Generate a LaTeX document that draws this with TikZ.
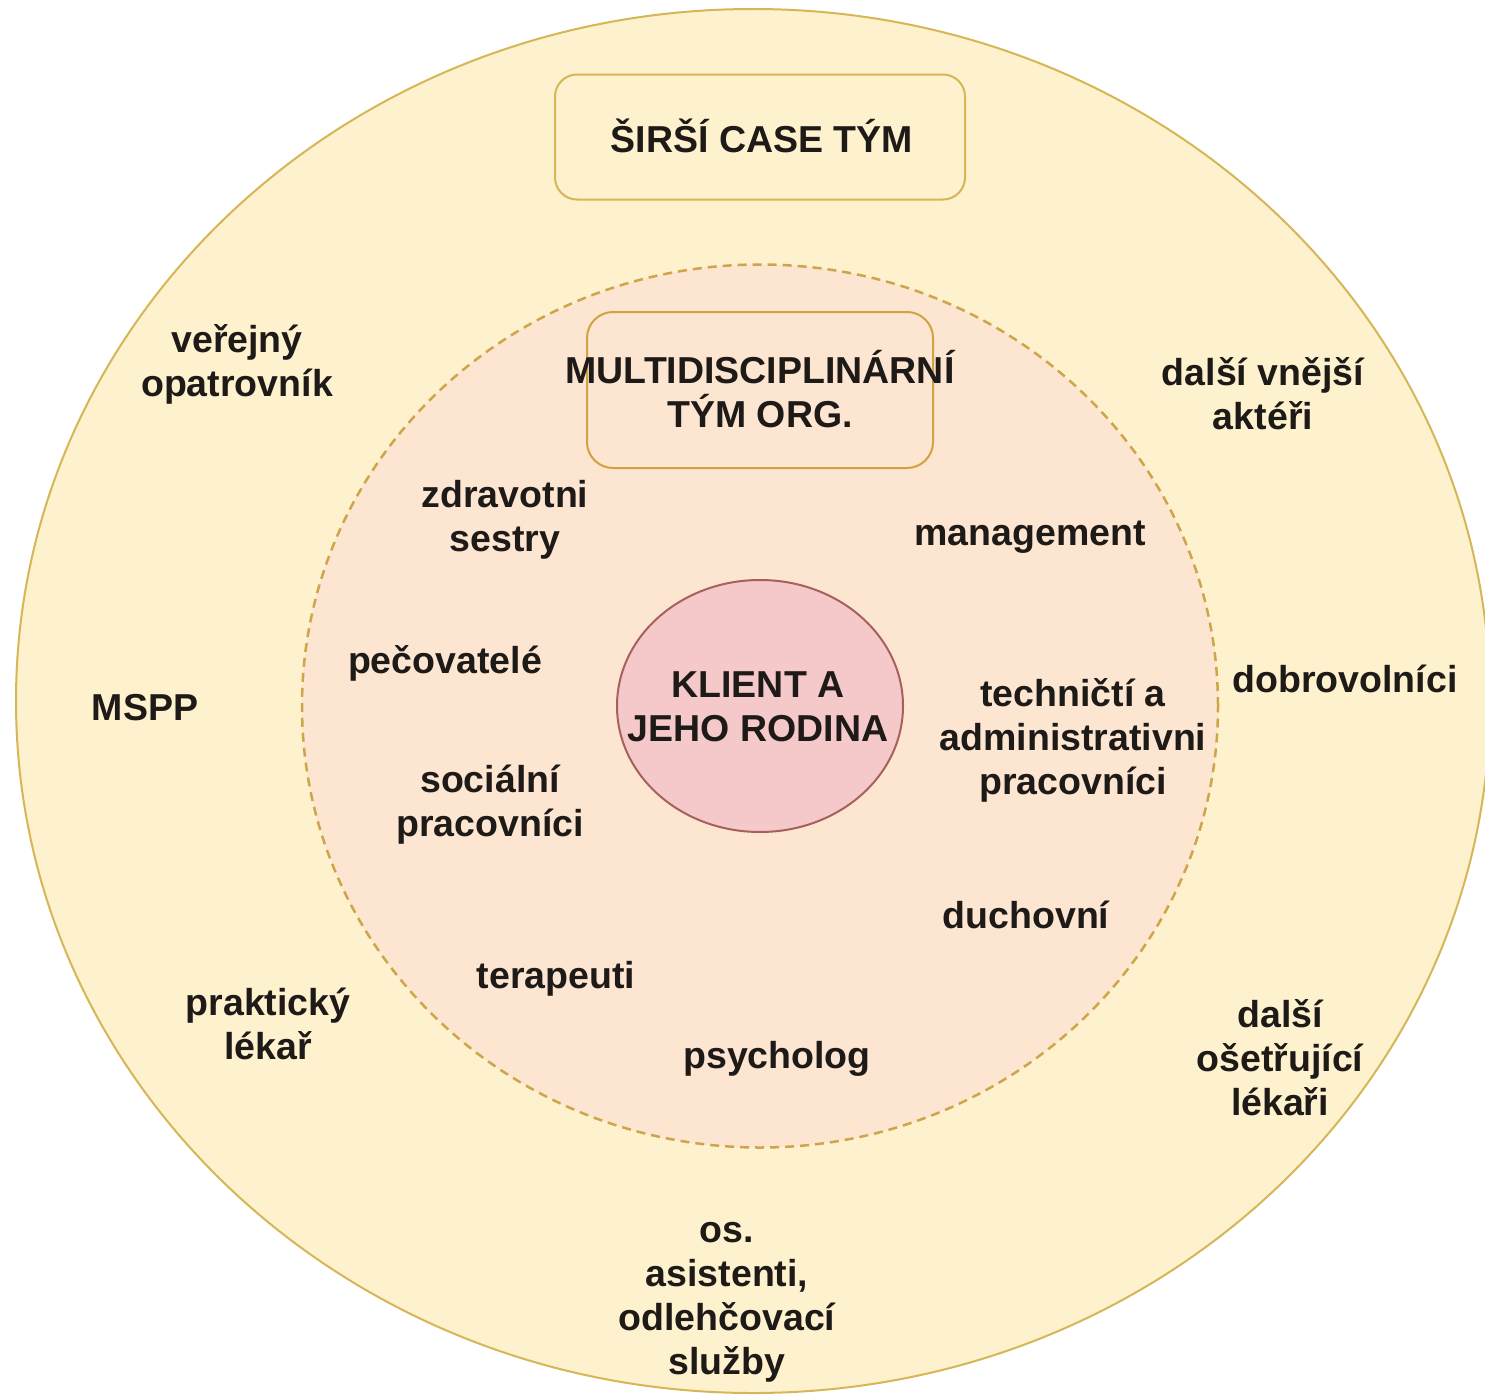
\documentclass[tikz,border=0pt]{standalone}
\usepackage{fontspec}
\setmainfont{Liberation Sans}
\usetikzlibrary{shapes.geometric}
\definecolor{outerfill}{HTML}{FDF1CE}
\definecolor{outerline}{HTML}{D6B656}
\definecolor{innerfill}{HTML}{FCE5D1}
\definecolor{innerline}{HTML}{CFA54A}
\definecolor{boxline}{HTML}{D2A240}
\definecolor{clientfill}{HTML}{F5C9CA}
\definecolor{clientline}{HTML}{A8605C}
\definecolor{textc}{HTML}{1E1A18}
\begin{document}
\begin{tikzpicture}[x=1pt,y=-1pt,
  lbl/.style={align=center, inner sep=0pt, font=\fontsize{37.5}{44}\selectfont\bfseries, text=textc},
  ring/.style={ellipse, inner sep=0pt, outer sep=0pt},
  roundbox/.style={rectangle, rounded corners=22pt, inner sep=0pt, line width=2pt}]
\useasboundingbox (0,0) rectangle (1485,1397);
\clip (0,0) rectangle (1485,1397);
\fill[white] (0,0) rectangle (1485,1397);
% outer ring
\node[ring, draw=outerline, fill=outerfill, line width=2pt, minimum width=1474pt, minimum height=1384pt] (outer) at (753,701) {};
% wider case team box
\node[roundbox, draw=outerline, fill=outerfill, minimum width=410pt, minimum height=125pt] (casebox) at (760,137) {};
\node[lbl] (casetxt) at (762,136) {ŠIRŠÍ CASE TÝM};
% inner dashed ring
\node[ring, draw=innerline, fill=innerfill, dashed, dash pattern=on 9pt off 6pt, line width=2.5pt, minimum width=916pt, minimum height=883pt] (inner) at (760,706) {};
% multidisciplinary team box
\node[roundbox, rounded corners=26pt, draw=boxline, fill=innerfill, minimum width=346pt, minimum height=156pt] (multibox) at (760,390) {};
\node[lbl] (multitxt) at (760,389) {MULTIDISCIPLINÁRNÍ\\TÝM ORG.};
% client
\node[ring, draw=clientline, fill=clientfill, line width=2pt, minimum width=286pt, minimum height=252pt] (client) at (760,706) {};
\node[lbl] (clienttxt) at (758,707) {KLIENT A\\JEHO RODINA};
% inner labels
\node[lbl] (zdrav) at (505,520) {zdravotni\\sestry};
\node[lbl] (manag) at (1030,537) {management};
\node[lbl] (pecov) at (445,663) {pečovatelé};
\node[lbl] (techn) at (1073,740) {techničtí a\\administrativni\\pracovníci};
\node[lbl] (social) at (490,805) {sociální\\pracovníci};
\node[lbl] (duch) at (1026,915) {duchovní};
\node[lbl] (terap) at (556,979) {terapeuti};
\node[lbl] (psych) at (777,1059) {psycholog};
% outer labels
\node[lbl] (verej) at (237,364) {veřejný\\opatrovník};
\node[lbl] (dalsiv) at (1263,394) {další vnější\\aktéři};
\node[lbl] (dobro) at (1345,679) {dobrovolníci};
\node[lbl] (mspp) at (145,708) {MSPP};
\node[lbl] (prakt) at (268,1024) {praktický\\lékař};
\node[lbl] (dalsio) at (1280,1058) {další\\ošetřující\\lékaři};
\node[lbl] (osas) at (727,1302) {os.\\asistenti,\\odlehčovací\\služby};
\end{tikzpicture}
\end{document}
